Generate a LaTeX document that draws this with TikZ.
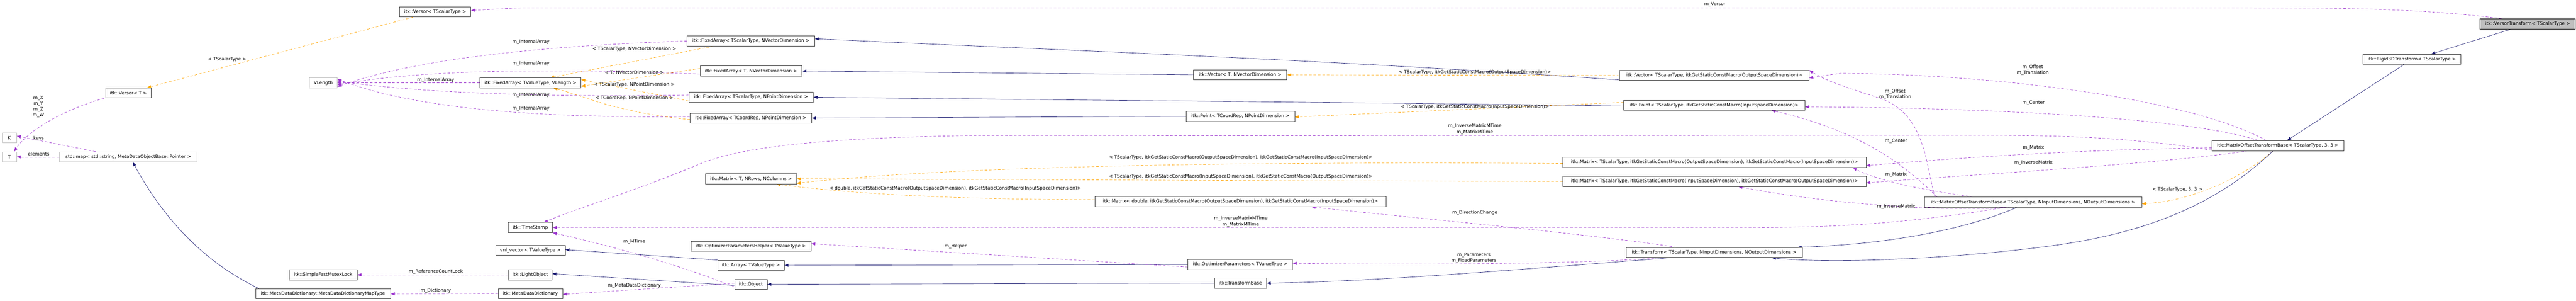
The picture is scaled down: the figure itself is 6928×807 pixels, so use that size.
\documentclass[tikz,border=0pt]{standalone}
\usepackage{fontspec}
\setmainfont{DejaVu Sans}
\usetikzlibrary{arrows.meta}
\definecolor{navy}{HTML}{191970}
\definecolor{purp}{HTML}{9A32CD}
\definecolor{orng}{HTML}{FFA500}
\definecolor{bdr}{HTML}{404040}
\definecolor{lgr}{HTML}{BFBFBF}
\pgfdeclarelayer{bg}
\pgfsetlayers{bg,main}
\begin{document}
\begin{tikzpicture}[x=1pt,y=-1pt,
  font=\fontsize{12.4}{15.5}\selectfont,
  box/.style={draw=bdr,line width=1.1pt,fill=white,minimum height=27pt,inner sep=0pt,anchor=center},
  gbox/.style={box,draw=lgr},
  cur/.style={box,fill=lgr,draw=black},
  tip/.style={-{Triangle[length=11pt,width=8pt]}},
  inh/.style={tip,draw=navy,line width=0.9pt},
  use/.style={tip,draw=purp,line width=0.9pt,dash pattern=on 7pt off 5pt},
  tpl/.style={tip,draw=orng,line width=0.9pt,dash pattern=on 7pt off 5pt},
  lbl/.style={inner sep=0pt,align=center,font=\fontsize{12.4}{15.5}\selectfont}]
\useasboundingbox (0,0) rectangle (6928,807);
% nodes
\node[gbox,minimum width=39pt] (K) at (25,370) {K};
\node[gbox,minimum width=39pt] (T) at (25,421) {T};
\node[box,minimum width=123pt] (VersorT) at (345.5,249.5) {itk::Versor< T >};
\node[gbox,minimum width=370pt] (stdmap) at (345,421) {std::map< std::string, MetaDataObjectBase::Pointer >};
\node[box,minimum width=191pt] (VersorTS) at (1170.5,32) {itk::Versor< TScalarType >};
\node[gbox,minimum width=75pt] (VL) at (869.5,222.5) {VLength};
\node[box,minimum width=183pt] (SFML) at (869,737.5) {itk::SimpleFastMutexLock};
\node[box,minimum width=363pt] (MapT) at (868.7,788.6) {itk::MetaDataDictionary::MetaDataDictionaryMapType};
\node[box,minimum width=272pt] (FAvl) at (1426.5,222.5) {itk::FixedArray< TValueType, VLength >};
\node[box,minimum width=119pt] (TS) at (1426.5,610.5) {itk::TimeStamp};
\node[box,minimum width=187pt] (vnl) at (1426.5,672) {vnl\_vector< TValueType >};
\node[box,minimum width=118pt] (LO) at (1426,737.5) {itk::LightObject};
\node[box,minimum width=173pt] (MDD) at (1426.5,788) {itk::MetaDataDictionary};
\node[box,minimum width=343pt] (FAsv) at (2019.5,110) {itk::FixedArray< TScalarType, NVectorDimension >};
\node[box,minimum width=274pt] (FAt) at (2020,190.7) {itk::FixedArray< T, NVectorDimension >};
\node[box,minimum width=335pt] (FAsp) at (2020,261) {itk::FixedArray< TScalarType, NPointDimension >};
\node[box,minimum width=327pt] (FAtc) at (2019.5,317) {itk::FixedArray< TCoordRep, NPointDimension >};
\node[box,minimum width=244pt] (MatT) at (2020,480) {itk::Matrix< T, NRows, NColumns >};
\node[box,minimum width=322pt] (OPH) at (2020,661) {itk::OptimizerParametersHelper< TValueType >};
\node[box,minimum width=179pt] (Arr) at (2019.5,712) {itk::Array< TValueType >};
\node[box,minimum width=87pt] (Obj) at (2019.5,763) {itk::Object};
\node[box,minimum width=251pt] (VecT) at (3335.5,200.8) {itk::Vector< T, NVectorDimension >};
\node[box,minimum width=292pt] (PtTC) at (3336,312) {itk::Point< TCoordRep, NPointDimension >};
\node[box,minimum width=783pt] (MatD) at (3336,541) {itk::Matrix< double, itkGetStaticConstMacro(OutputSpaceDimension), itkGetStaticConstMacro(InputSpaceDimension)>};
\node[box,minimum width=281pt] (OP) at (3335.5,709.7) {itk::OptimizerParameters< TValueType >};
\node[box,minimum width=140pt] (TB) at (3336,760) {itk::TransformBase};
\node[box,minimum width=509pt] (VecTSo) at (4610.5,202.4) {itk::Vector< TScalarType, itkGetStaticConstMacro(OutputSpaceDimension)>};
\node[box,minimum width=487pt] (PtTSi) at (4610.5,282.6) {itk::Point< TScalarType, itkGetStaticConstMacro(InputSpaceDimension)>};
\node[box,minimum width=815pt] (MatOI) at (4611,435.6) {itk::Matrix< TScalarType, itkGetStaticConstMacro(OutputSpaceDimension), itkGetStaticConstMacro(InputSpaceDimension)>};
\node[box,minimum width=815pt] (MatIO) at (4611,486.7) {itk::Matrix< TScalarType, itkGetStaticConstMacro(InputSpaceDimension), itkGetStaticConstMacro(OutputSpaceDimension)>};
\node[box,minimum width=474pt] (Tr) at (4610,677.7) {itk::Transform< TScalarType, NInputDimensions, NOutputDimensions >};
\node[box,minimum width=584pt] (MOTB) at (5468,542.6) {itk::MatrixOffsetTransformBase< TScalarType, NInputDimensions, NOutputDimensions >};
\node[box,minimum width=355pt] (M33) at (6126,391) {itk::MatrixOffsetTransformBase< TScalarType, 3, 3 >};
\node[box,minimum width=263pt] (Rigid) at (6486.5,159) {itk::Rigid3DTransform< TScalarType >};
\node[cur,minimum width=256pt] (VT) at (6798,64) {itk::VersorTransform< TScalarType >};

\begin{pgfonlayer}{bg}
% edges: top
\draw[use] ([xshift=-70]VT.north) .. controls (6500,22) and (6300,21) .. (6000,21) -- (1400,21) -- ([yshift=4]VersorTS.east);
\node[lbl] (lVer) at (4612,12) {m\_Versor};
\draw[inh] ([xshift=-44]VT.south) -- ([xshift=52]Rigid.north);
\draw[inh] ([xshift=-21]Rigid.south) -- ([xshift=25]M33.north);
\draw[tpl] ([xshift=-13]M33.south) .. controls (6040,470) and (5900,540) .. ([yshift=-4]MOTB.east);
\node[lbl] (l33) at (5856,508) {< TScalarType, 3, 3 >};
\draw[inh] ([xshift=-13]M33.south) .. controls (5950,560) and (5750,630) .. (5500,662) .. controls (5200,700) and (4900,706) .. ([xshift=155]Tr.south);
\draw[inh] ([xshift=-44]MOTB.south) .. controls (5300,610) and (5100,655) .. ([xshift=-13]Tr.north east);
\draw[inh] ([xshift=-118]Tr.south) .. controls (4000,730) and (3700,755) .. (TB.east);
\draw[inh] (TB.west) -- (Obj.east);
\draw[inh] ([yshift=-3]Obj.west) -- ([yshift=3]LO.east);
\draw[use] ([yshift=-7]Obj.west) .. controls (1800,700) and (1600,650) .. (TS.south east);
\node[lbl] (lMT) at (1706,648) {m\_MTime};
\draw[use] ([yshift=3]Obj.west) -- ([yshift=-2]MDD.east);
\node[lbl] (lMDD) at (1706,767) {m\_MetaDataDictionary};
\draw[use] (MDD.west) -- (MapT.east);
\node[lbl] (lDic) at (1172,780) {m\_Dictionary};
\draw[use] (LO.west) -- (SFML.east);
\node[lbl] (lRCL) at (1172,729) {m\_ReferenceCountLock};
\draw[inh] ([xshift=-172]MapT.north) .. controls (520,690) and (420,550) .. ([xshift=12]stdmap.south);
\draw[use] ([xshift=-88]stdmap.north) -- ([yshift=5]K.east);
\node[lbl] (lkeys) at (104,371) {keys};
\draw[use] (stdmap.west) -- (T.east);
\node[lbl] (lel) at (104,412.5) {elements};
\draw[use] ([xshift=-3]VersorT.south west) .. controls (170,295) and (75,350) .. ([xshift=13]T.north);
\node[lbl] (lxyz) at (103,286.5) {m\_X\\m\_Y\\m\_Z\\m\_W};
\draw[tpl] ([xshift=-60]VersorTS.south) -- ([xshift=50]VersorT.north);
\node[lbl] (lTS) at (611,159.6) {< TScalarType >};
% internal arrays
\draw[use] (FAsv.west) .. controls (1400,125) and (1100,165) .. ([yshift=-10]VL.east);
\node[lbl] (li1) at (1428,112) {m\_InternalArray};
\draw[use] ([yshift=-8]FAt.west) .. controls (1400,180) and (1100,193) .. ([yshift=-5]VL.east);
\node[lbl] (li2) at (1428,170) {m\_InternalArray};
\draw[use] (FAvl.west) -- (VL.east);
\node[lbl] (li3) at (1172,214.7) {m\_InternalArray};
\draw[use] ([yshift=6]FAsp.west) .. controls (1400,262) and (1100,245) .. ([yshift=5]VL.east);
\node[lbl] (li4) at (1428,255.4) {m\_InternalArray};
\draw[use] ([yshift=4]FAtc.west) .. controls (1400,318) and (1100,285) .. ([yshift=10]VL.east);
\node[lbl] (li5) at (1428,291.5) {m\_InternalArray};
\draw[tpl] ([xshift=-101]FAsv.south) -- ([xshift=53]FAvl.north);
\node[lbl] (lo1) at (1706,131.8) {< TScalarType, NVectorDimension >};
\draw[tpl] ([yshift=7]FAt.west) -- ([yshift=-9]FAvl.east);
\node[lbl] (lo2) at (1706,194.6) {< T, NVectorDimension >};
\draw[tpl] ([yshift=-10]FAsp.west) -- ([yshift=9]FAvl.east);
\node[lbl] (lo3) at (1706,226.6) {< TScalarType, NPointDimension >};
\draw[tpl] ([yshift=-4]FAtc.west) .. controls (1650,300) and (1580,260) .. ([xshift=62]FAvl.south);
\node[lbl] (lo4) at (1706,263.6) {< TCoordRep, NPointDimension >};
% vectors/points
\draw[inh] (VecT.west) -- (FAt.east);
\draw[inh] (PtTC.west) -- (FAtc.east);
\draw[inh] ([yshift=-12]VecTSo.west) .. controls (3500,156) and (2800,133) .. ([yshift=6]FAsv.east);
\draw[inh] ([yshift=-2]PtTSi.west) .. controls (3500,273) and (2800,268) .. (FAsp.east);
\draw[tpl] (VecTSo.west) -- (VecT.east);
\node[lbl] (lo5) at (3966.5,194.6) {< TScalarType, itkGetStaticConstMacro(OutputSpaceDimension)>};
\draw[tpl] ([yshift=8]PtTSi.west) -- ([yshift=-2]PtTC.east);
\node[lbl] (lo6) at (3966.5,287.3) {< TScalarType, itkGetStaticConstMacro(InputSpaceDimension)>};
% matrices
\draw[tpl] ([yshift=-3]MatOI.west) .. controls (3500,434) and (2600,440) .. ([yshift=-12]MatT.east);
\node[lbl] (lo7) at (3336.7,423) {< TScalarType, itkGetStaticConstMacro(OutputSpaceDimension), itkGetStaticConstMacro(InputSpaceDimension)>};
\draw[tpl] (MatIO.west) .. controls (3500,486) and (2600,481) .. (MatT.east);
\node[lbl] (lo8) at (3336.7,474) {< TScalarType, itkGetStaticConstMacro(InputSpaceDimension), itkGetStaticConstMacro(OutputSpaceDimension)>};
\draw[tpl] ([yshift=5]MatD.west) .. controls (2500,535) and (2250,515) .. ([xshift=68]MatT.south);
\node[lbl] (lo9) at (2569,506) {< double, itkGetStaticConstMacro(OutputSpaceDimension), itkGetStaticConstMacro(InputSpaceDimension)>};
\draw[use] ([xshift=-102]Tr.north) .. controls (4300,630) and (3800,585) .. ([xshift=191]MatD.south);
\node[lbl] (lDC) at (3966.5,570.5) {m\_DirectionChange};
\draw[use] ([xshift=-150]Tr.south) .. controls (4300,706) and (3900,712) .. ([yshift=3]OP.east);
\node[lbl] (lPar) at (3964,692) {m\_Parameters\\m\_FixedParameters};
\draw[inh] (OP.west) -- (Arr.east);
\draw[use] ([yshift=-7]OP.west) -- ([yshift=7]OPH.east);
\node[lbl] (lHel) at (2570,661) {m\_Helper};
\draw[inh] ([xshift=-89]Arr.north) -- ([yshift=2]vnl.east);
% time stamps
\draw[use] ([xshift=-77]MOTB.south) .. controls (5100,605) and (4900,610.5) .. (4700,610.5) -- (TS.east);
\node[lbl] (lMT1) at (3337,594.5) {m\_InverseMatrixMTime\\m\_MatrixMTime};
\draw[use] ([yshift=-12]M33.west) .. controls (5700,364) and (5500,363) .. (5300,363) -- (2600,364) .. controls (2100,372) and (1950,410) .. (1870,445) .. controls (1700,515) and (1550,560) .. ([xshift=36]TS.north);
\node[lbl] (lMT2) at (3966.5,346.5) {m\_InverseMatrixMTime\\m\_MatrixMTime};
% MOTB members
\draw[use] ([xshift=-264]MOTB.north) .. controls (5180,450) and (5180,300) .. (5050,262) .. controls (4980,238) and (4920,222) .. ([yshift=14]VecTSo.east);
\node[lbl] (lOf1) at (5097,252.6) {m\_Offset\\m\_Translation};
\draw[use] ([xshift=-258]MOTB.north) .. controls (5120,440) and (5000,350) .. ([xshift=154]PtTSi.south);
\node[lbl] (lCe1) at (5099.5,378.5) {m\_Center};
\draw[use] ([xshift=-162]MOTB.north) .. controls (5100,500) and (5020,470) .. ([xshift=372]MatOI.south);
\node[lbl] (lMa1) at (5099.5,468.6) {m\_Matrix};
\draw[use] ([xshift=-60]MOTB.south) .. controls (5150,570) and (4850,535) .. ([xshift=64]MatIO.south);
\node[lbl] (lIM1) at (5099.5,555) {m\_InverseMatrix};
% M33 members
\draw[use] ([xshift=-31]M33.north) .. controls (5900,270) and (5400,200) .. (4950,196.7) -- ([yshift=-6.7]VecTSo.east);
\node[lbl] (lOf2) at (5467,188) {m\_Offset\\m\_Translation};
\draw[use] ([xshift=-53]M33.north) .. controls (5900,320) and (5400,290) .. ([yshift=-4]PtTSi.east);
\node[lbl] (lCe2) at (5469,275.5) {m\_Center};
\draw[use] ([yshift=-6]M33.west) .. controls (5700,400) and (5400,412) .. ([yshift=-9]MatOI.east);
\node[lbl] (lMa2) at (5469,396.5) {m\_Matrix};
\draw[use] ([xshift=-80]M33.south) .. controls (5800,440) and (5400,462) .. ([yshift=-4]MatIO.east);
\node[lbl] (lIM2) at (5469,436.7) {m\_InverseMatrix};
\end{pgfonlayer}
\end{tikzpicture}
\end{document}
